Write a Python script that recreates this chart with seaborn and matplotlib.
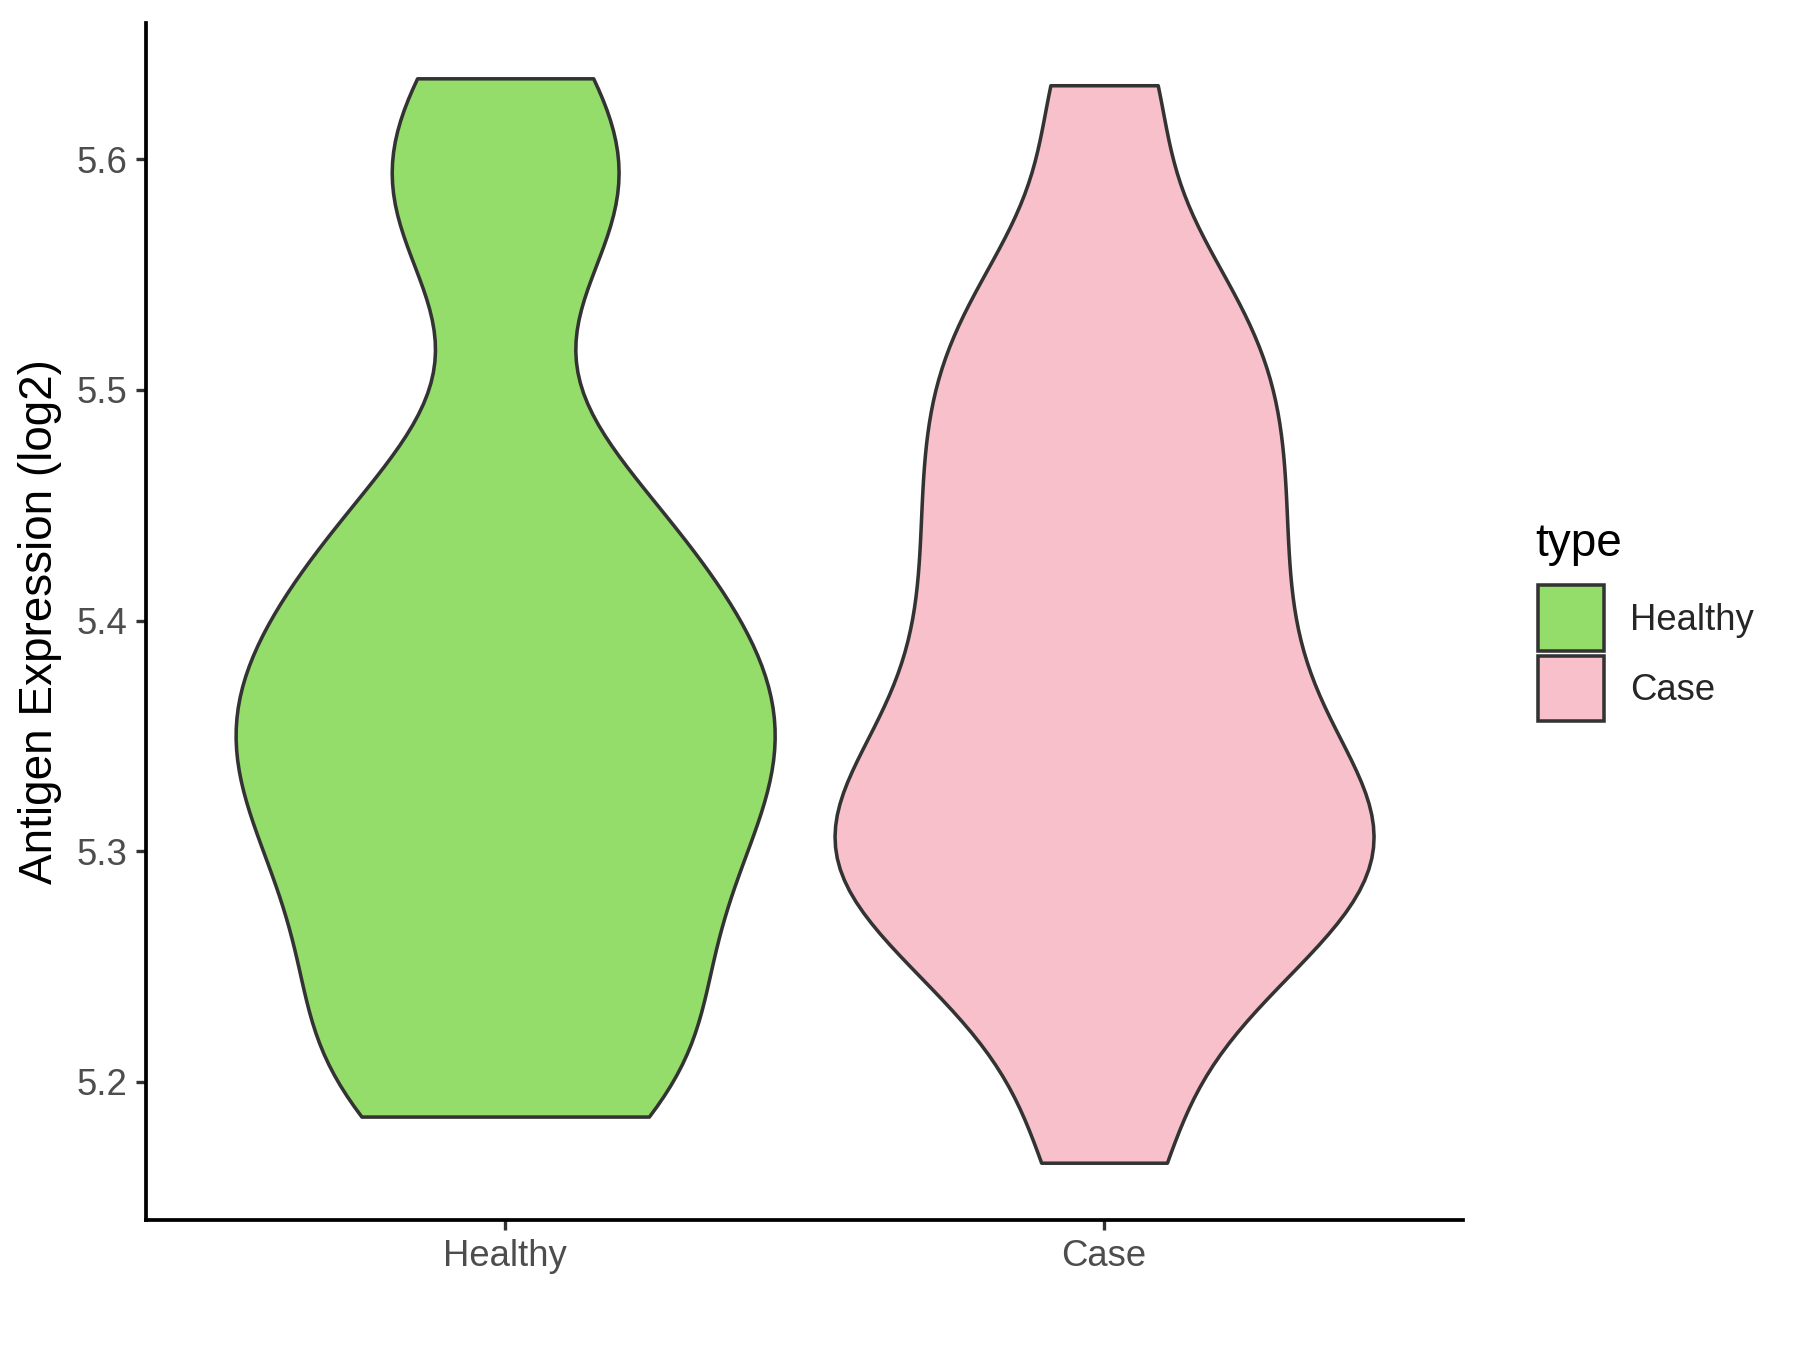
import numpy as np
import pandas as pd
import matplotlib
matplotlib.use("Agg")
import matplotlib.pyplot as plt
from matplotlib.patches import Patch
import seaborn as sns

# values (log2 antigen expression)
healthy = [5.185, 5.20, 5.22, 5.25, 5.28, 5.30, 5.32, 5.34, 5.355, 5.37, 5.385,
           5.41, 5.435, 5.46, 5.57, 5.59, 5.635]
case = [5.165, 5.23, 5.255, 5.28, 5.29, 5.30, 5.315, 5.33, 5.35, 5.375, 5.40,
        5.425, 5.45, 5.475, 5.50, 5.525, 5.555, 5.632]
groups = ["Healthy", "Case"]
colors = {"Healthy": "#94DD6A", "Case": "#F7C0CB"}
yticks = [5.2, 5.3, 5.4, 5.5, 5.6]

df = pd.DataFrame({
    "type": ["Healthy"] * len(healthy) + ["Case"] * len(case),
    "value": healthy + case,
})

sns.set_style("white")
plt.rcParams["font.family"] = ["Liberation Sans", "DejaVu Sans"]

fig = plt.figure(figsize=(12, 9), dpi=150)
ax = fig.add_axes([0.081, 0.096, 0.732, 0.887])

sns.violinplot(data=df, x="type", y="value", hue="type", order=groups, hue_order=groups,
               palette=colors, cut=0, inner=None, density_norm="area", width=0.9,
               bw_adjust=0.6, linewidth=1.7, linecolor="#333333", saturation=1,
               legend=False, ax=ax)

ax.set_xlim(-0.6, 1.6)
ax.set_ylim(5.140, 5.659)
ax.set_yticks(yticks)
ax.set_yticklabels([f"{t:.1f}" for t in yticks])
ax.set_xlabel("")
ax.set_ylabel("Antigen Expression (log2)", fontsize=22, color="black", labelpad=7)
ax.tick_params(axis="both", labelsize=17.5, colors="#333333", labelcolor="#4D4D4D",
               length=4.8, width=1.6, left=True, bottom=True, direction="out", pad=4)
for side in ["top", "right"]:
    ax.spines[side].set_visible(False)
for side in ["left", "bottom"]:
    ax.spines[side].set_color("black")
    ax.spines[side].set_linewidth(1.8)

# legend: title as its own text, keys below it
fig.text(0.853, 0.588, "type", fontsize=22, color="black", ha="left", va="baseline")
handles = [Patch(facecolor=colors[g], edgecolor="#333333", linewidth=1.7, label=g) for g in groups]
leg = fig.legend(handles=handles, loc="upper left", bbox_to_anchor=(0.8546, 0.5663),
                 frameon=False, fontsize=17.5, handlelength=1.8, handleheight=2.4,
                 labelspacing=0.12, handletextpad=0.72, borderpad=0, borderaxespad=0)

fig.savefig("out.png", dpi=150)
